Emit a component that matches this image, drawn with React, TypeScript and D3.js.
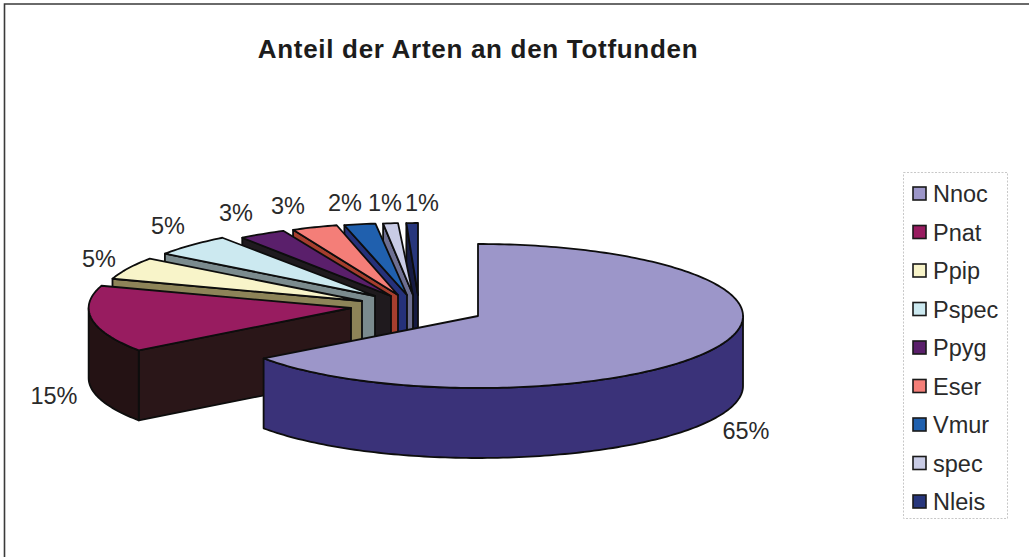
import React from "react";
import * as d3 from "d3";

const WIDTH = 1029;
const HEIGHT = 557;

// Species shares shown on the pie, in percent.
const categories = ["Nnoc", "Pnat", "Ppip", "Pspec", "Ppyg", "Eser", "Vmur", "spec", "Nleis"];
const shares = [65, 15, 5, 5, 3, 3, 2, 1, 1];
const shareLabels = ["65%", "15%", "5%", "5%", "3%", "3%", "2%", "1%", "1%"];

const topColors = ["#9c96c9", "#981c60", "#f8f4c9", "#cce9f0", "#5a1f6b", "#f47e78", "#2060ae", "#c9cce6", "#27367c"];
const wallColors = ["#3a3279", "#2a1618", "#8d8458", "#7b8b8e", "#1f1a1e", "#a63e2e", "#25317a", "#6d6f92", "#161b42"];
const rimColors = ["#3a3279", "#241214", "#8d8458", "#7b8b8e", "#1f1a1e", "#a63e2e", "#25317a", "#6d6f92", "#161b42"];

// Pie hub of each slice once pulled out of the disc.
const hubX = [478, 351, 362, 375, 391, 398, 407, 413, 418];
const hubY = [316, 308, 301, 296, 296, 295, 295, 295, 295];
// Horizontal radius factor per slice: the far slices foreshorten a little.
const radiusFactor = [1, 0.99, 0.99, 0.98, 0.955, 0.93, 0.95, 0.9, 0.7];

// Label anchor points (text centres).
const labelX = [746, 54, 99, 168, 236, 288, 345, 385, 422];
const labelY = [431, 396, 259, 226, 213, 206, 203, 203, 203];

const RX = 265;
const RY = 72;
const DEPTH = 70;

const angleScale = d3.scaleLinear().domain([0, 100]).range([0, 2 * Math.PI]);

type Pt = [number, number];

function ringPoint(hx: number, hy: number, rx: number, a: number, drop = 0): Pt {
  return [hx + rx * Math.sin(a), hy - RY * Math.cos(a) + drop];
}

function arcPoints(hx: number, hy: number, rx: number, a0: number, a1: number, drop = 0): Pt[] {
  const steps = Math.max(2, Math.ceil(Math.abs(a1 - a0) / 0.02));
  return d3.range(steps + 1).map((i) => ringPoint(hx, hy, rx, a0 + ((a1 - a0) * i) / steps, drop));
}

const line = d3.line<Pt>();

function App() {
  const cumulative = d3.cumsum(shares);
  const slices = shares.map((_, i) => {
    const a0 = angleScale(i === 0 ? 0 : cumulative[i - 1]);
    const a1 = angleScale(cumulative[i]);
    const hx = hubX[i];
    const hy = hubY[i];
    const rx = RX * radiusFactor[i];
    const top = line([[hx, hy], ...arcPoints(hx, hy, rx, a0, a1)])! + "Z";
    // Radial face along the leading edge of the slice.
    const s = ringPoint(hx, hy, rx, a0);
    const wall = line([[hx, hy], s, [s[0], s[1] + DEPTH], [hx, hy + DEPTH]])! + "Z";
    // Outer curved face, only where the rim turns towards the viewer.
    const lo = Math.max(a0, Math.PI / 2);
    const hi = Math.min(a1, (3 * Math.PI) / 2);
    let rim: string | null = null;
    if (hi > lo) {
      const upper = arcPoints(hx, hy, rx, lo, hi);
      const lower = arcPoints(hx, hy, rx, hi, lo, DEPTH);
      rim = line([...upper, ...lower])! + "Z";
    }
    return { i, top, wall, rim };
  });

  // Painted back to front so nearer slices overlap the ones behind them.
  const order = d3.range(1, slices.length).reverse();
  const frontSlice = slices[0];

  const legendY = d3.scalePoint<string>().domain(categories).range([194, 502]);

  return (
    <svg
      width={WIDTH}
      height={HEIGHT}
      viewBox={`0 0 ${WIDTH} ${HEIGHT}`}
      style={{ position: "fixed", left: 0, top: 0, fontFamily: "'Liberation Sans', Arial, sans-serif" }}
    >
      <rect width={WIDTH} height={HEIGHT} fill="#ffffff" />
      <path d="M4.5 557 V4 H1029" fill="none" stroke="#3a3a3a" strokeWidth={1.6} />
      <text x={478} y={58} textAnchor="middle" fontSize={26} letterSpacing={0.7} fontWeight="bold" fill="#1c1c1c">
        Anteil der Arten an den Totfunden
      </text>

      {order.map((i) => {
        const s = slices[i];
        return (
          <g key={categories[i]} stroke="#0d0d0d" strokeWidth={1.8} strokeLinejoin="round">
            <path d={s.wall} fill={wallColors[i]} />
            {s.rim && <path d={s.rim} fill={rimColors[i]} />}
            <path d={s.top} fill={topColors[i]} />
          </g>
        );
      })}
      <g stroke="#0d0d0d" strokeWidth={1.8} strokeLinejoin="round">
        {frontSlice.rim && <path d={frontSlice.rim} fill={rimColors[0]} />}
        <path d={frontSlice.top} fill={topColors[0]} />
      </g>

      {shareLabels.map((t, i) => (
        <text key={categories[i]} x={labelX[i]} y={labelY[i]} textAnchor="middle" dominantBaseline="central" fontSize={23.5} fill="#2a2a2a">
          {t}
        </text>
      ))}

      <rect x={903.5} y={172.5} width={104} height={346} fill="none" stroke="#c8c8c8" strokeWidth={1} strokeDasharray="2 1.5" />
      {categories.map((c, i) => (
        <g key={c}>
          <rect x={913} y={(legendY(c) as number) - 7} width={13} height={13} fill={topColors[i]} stroke="#1a1a1a" strokeWidth={1.6} />
          <text x={933} y={legendY(c) as number} dominantBaseline="central" fontSize={23.5} fill="#2a2a2a">
            {c}
          </text>
        </g>
      ))}
    </svg>
  );
}

export default App;
